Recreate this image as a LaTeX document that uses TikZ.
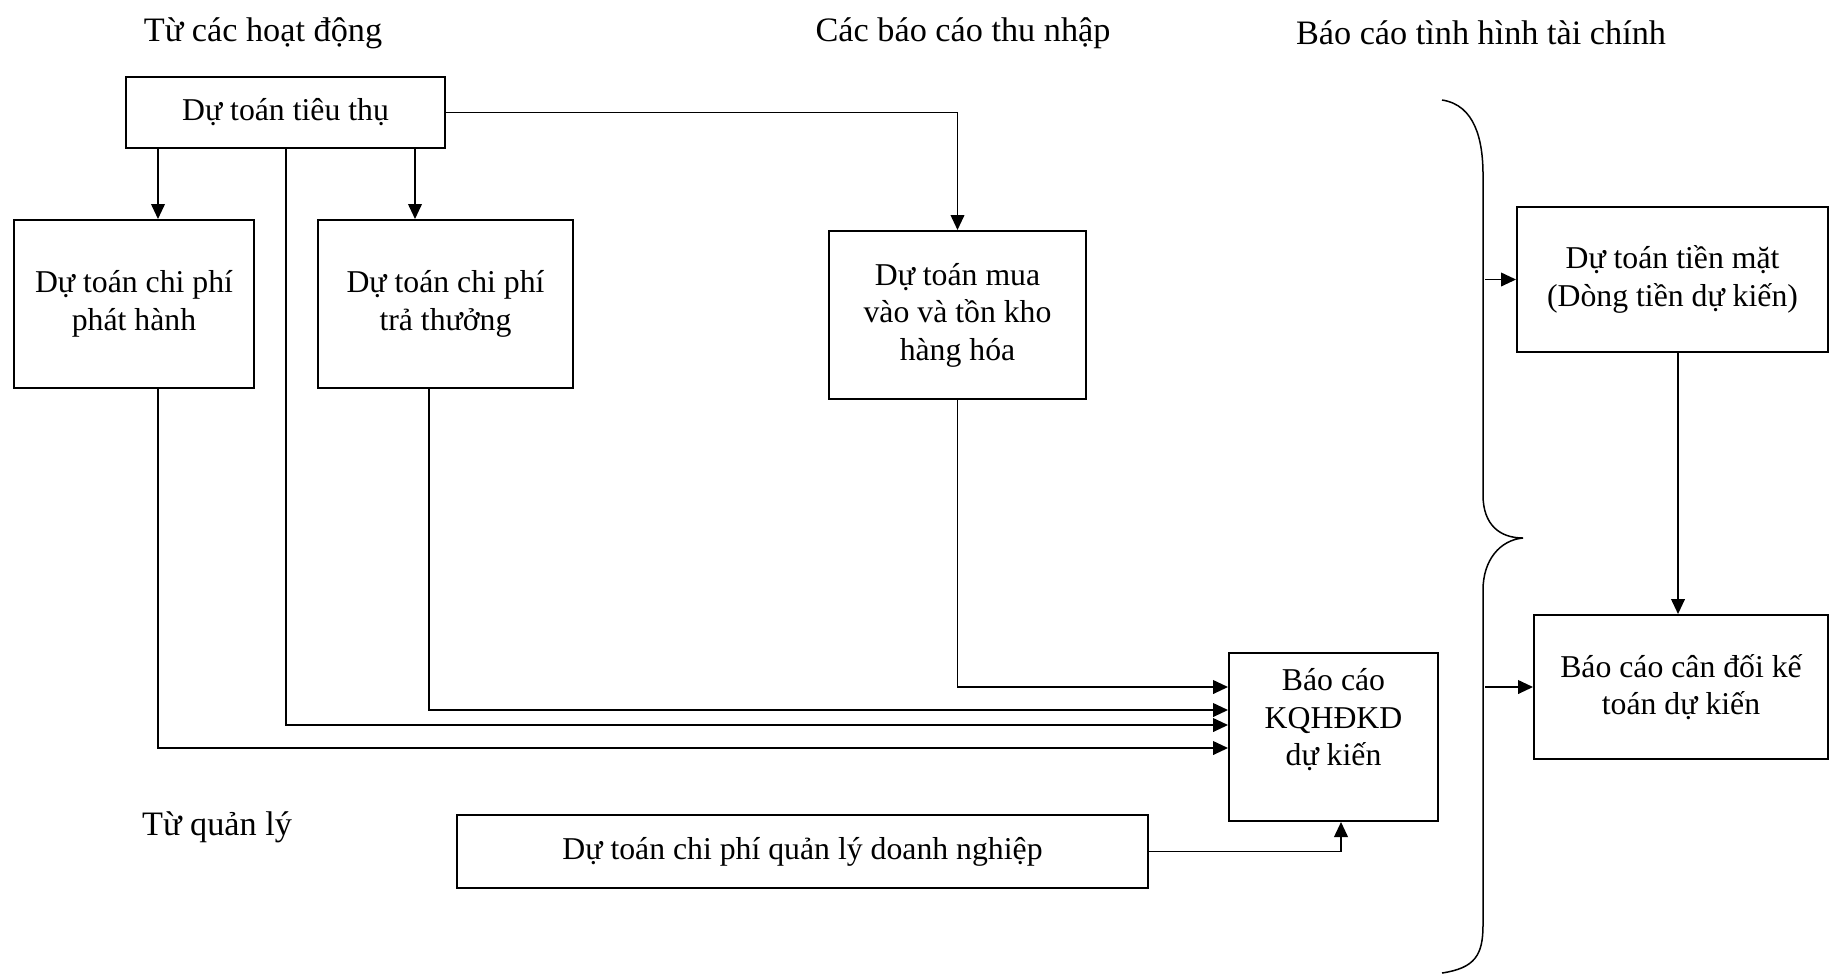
\documentclass[tikz,border=0pt]{standalone}
\usepackage{fontspec}
\setmainfont{Liberation Serif}
\usetikzlibrary{arrows.meta}

\begin{document}
\begin{tikzpicture}[x=0.4pt,y=-0.4pt,
    font=\fontsize{12.7}{15}\selectfont,
    box/.style={draw, line width=0.8pt, align=center, inner sep=0pt},
    heading/.style={font=\fontsize{13.7}{16}\selectfont},
    arr/.style={line width=0.6pt, -{Triangle[length=6pt,width=5.5pt]}}]
  \useasboundingbox (0,0) rectangle (1830,975);
  % headings
  \node[heading] (hdhoatdong) at (263,33) {Từ các hoạt động};
  \node[heading] (hdthunhap) at (963,33) {Các báo cáo thu nhập};
  \node[heading] (hdtaichinh) at (1481,33) {Báo cáo tình hình tài chính};
  \node[heading] (hdquanly) at (217,827) {Từ quản lý};
  % budget boxes
  \node[box, minimum width=127.6pt, minimum height=28.4pt] (tieuthu) at (285.5,112.5) {Dự toán tiêu thụ};
  \node[box, minimum width=96pt, minimum height=67.2pt] (phathanh) at (134,304) {Dự toán chi phí\\phát hành};
  \node[box, minimum width=102pt, minimum height=67.2pt] (trathuong) at (445.5,304) {Dự toán chi phí\\trả thưởng};
  \node[box, minimum width=102.8pt, minimum height=67.2pt] (muavao) at (957.5,315) {Dự toán mua\\vào và tồn kho\\hàng hóa};
  \node[box, minimum width=276.4pt, minimum height=29.2pt] (quanly) at (802.5,851.5) {Dự toán chi phí quản lý doanh nghiệp};
  \node[box, minimum width=83.6pt, minimum height=67.2pt,
    label={[align=center, yshift=6.8pt]center:Báo cáo\\KQHĐKD\\dự kiến}] (kq) at (1333.5,737) {};
  \node[box, minimum width=124.4pt, minimum height=58pt] (tienmat) at (1672.5,279.5) {Dự toán tiền mặt\\(Dòng tiền dự kiến)};
  \node[box, minimum width=117.6pt, minimum height=57.6pt] (candoi) at (1681,687) {Báo cáo cân đối kế\\toán dự kiến};
  % brace
  \coordinate (brace) at (1485,0);
  \draw[line width=0.6pt] (1442,100) .. controls (1475,105) and (1483,140) .. (1483,175)
    -- (1483,495) .. controls (1483,525) and (1500,538) .. (1523,538)
    .. controls (1500,540) and (1483,560) .. (1483,590)
    -- (1483,925) .. controls (1483,955) and (1475,968) .. (1442,973);
  % connectors
  \draw[arr] (tieuthu.south -| 158,0) -- (phathanh.north -| 158,0);
  \draw[arr] (tieuthu.south -| 415,0) -- (trathuong.north -| 415,0);
  \draw[arr] (tieuthu.east) -| (muavao.north);
  \draw[arr] (muavao.south) |- (kq.west |- 0,687);
  \draw[arr] (trathuong.south -| 429,0) |- (kq.west |- 0,710);
  \draw[arr] (tieuthu.south -| 286,0) |- (kq.west |- 0,725);
  \draw[arr] (phathanh.south -| 158,0) |- (kq.west |- 0,748);
  \draw[arr] (quanly.east) -| (kq.south -| 1341,0);
  \draw[arr] (tienmat.south -| 1678,0) -- (candoi.north -| 1678,0);
  \draw[arr] (tienmat.west -| brace) -- (tienmat.west);
  \draw[arr] (candoi.west -| brace) -- (candoi.west);
\end{tikzpicture}
\end{document}
